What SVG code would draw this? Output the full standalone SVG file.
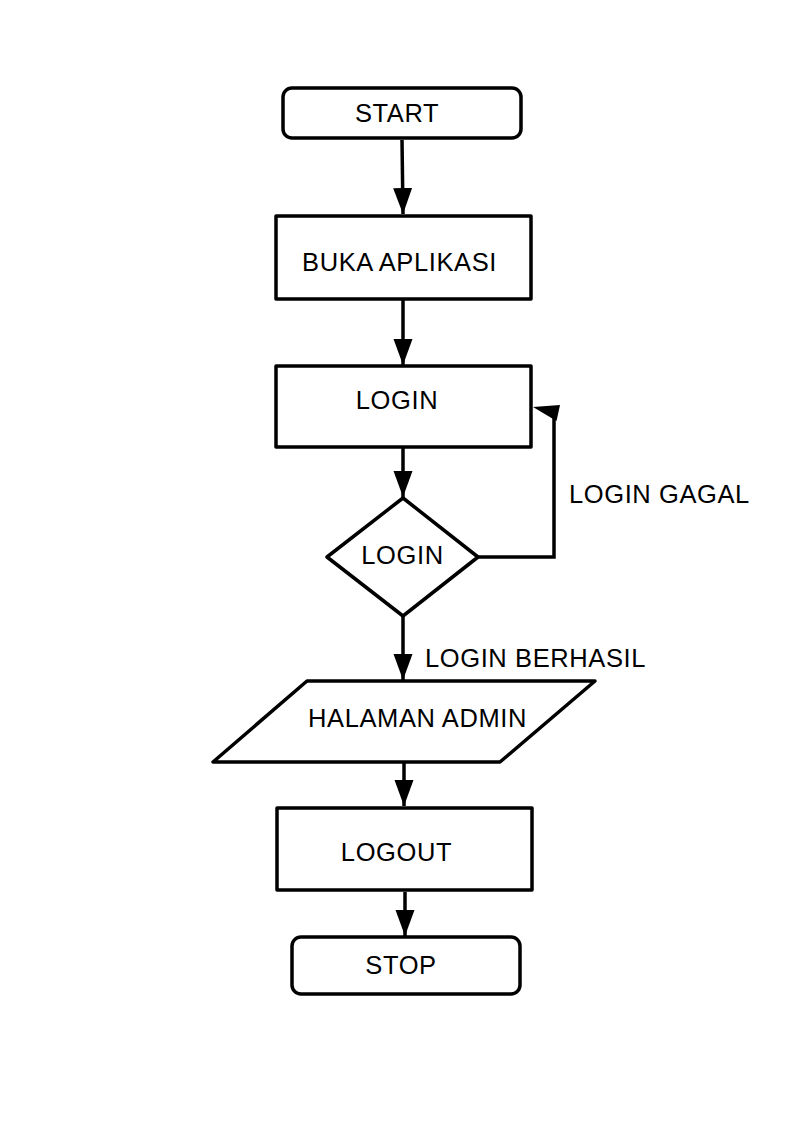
<svg xmlns="http://www.w3.org/2000/svg" width="794" height="1123" viewBox="0 0 794 1123">
<defs>
<style>
.shape{fill:#fff;stroke:#000;stroke-width:3.5;stroke-linejoin:round}
.line{fill:none;stroke:#000;stroke-width:3.5}
.t{font-family:"Liberation Sans",Arial,sans-serif;font-size:25.5px;letter-spacing:0.6px;fill:#000}
.c{text-anchor:middle}
</style>
<marker id="ah" markerUnits="userSpaceOnUse" markerWidth="27" markerHeight="20" refX="26" refY="9.5" orient="auto">
<path d="M0,0 L26,9.5 L0,19 z" fill="#000"/>
</marker>
</defs>
<rect width="794" height="1123" fill="#fff"/>
<g id="connectors">
<line class="line" x1="402" y1="140" x2="403" y2="214" marker-end="url(#ah)"/>
<line class="line" x1="403" y1="300" x2="403" y2="365" marker-end="url(#ah)"/>
<line class="line" x1="403" y1="448" x2="403" y2="497" marker-end="url(#ah)"/>
<path class="line" d="M478,557 H554 V418"/>
<polygon points="533,407 560,405 556.5,421" fill="#000"/>
<line class="line" x1="403" y1="616" x2="403" y2="680" marker-end="url(#ah)"/>
<line class="line" x1="404" y1="763" x2="404" y2="806" marker-end="url(#ah)"/>
<line class="line" x1="405" y1="892" x2="405" y2="936" marker-end="url(#ah)"/>
</g>
<g id="start">
<rect class="shape" x="283" y="88" width="238" height="50" rx="9"/>
<text class="t c" x="397" y="122">START</text>
</g>
<g id="buka">
<rect class="shape" x="276" y="216" width="255" height="83"/>
<text class="t c" x="399.5" y="271">BUKA APLIKASI</text>
</g>
<g id="login">
<rect class="shape" x="276" y="366" width="255" height="81"/>
<text class="t c" x="397" y="409">LOGIN</text>
</g>
<g id="decision">
<polygon class="shape" points="403,498 478,557 403,616 327,557"/>
<text class="t c" x="402.5" y="564">LOGIN</text>
</g>
<g id="label-gagal">
<text class="t" x="569" y="503">LOGIN GAGAL</text>
</g>
<g id="label-berhasil">
<text class="t" x="425" y="667">LOGIN BERHASIL</text>
</g>
<g id="halaman">
<polygon class="shape" points="307,681 595,681 500,762 213,762"/>
<text class="t c" x="417.5" y="727">HALAMAN ADMIN</text>
</g>
<g id="logout">
<rect class="shape" x="277" y="808" width="255" height="82"/>
<text class="t c" x="396.5" y="861">LOGOUT</text>
</g>
<g id="stop">
<rect class="shape" x="292" y="937" width="228" height="57" rx="9"/>
<text class="t c" x="401" y="974">STOP</text>
</g>
</svg>
